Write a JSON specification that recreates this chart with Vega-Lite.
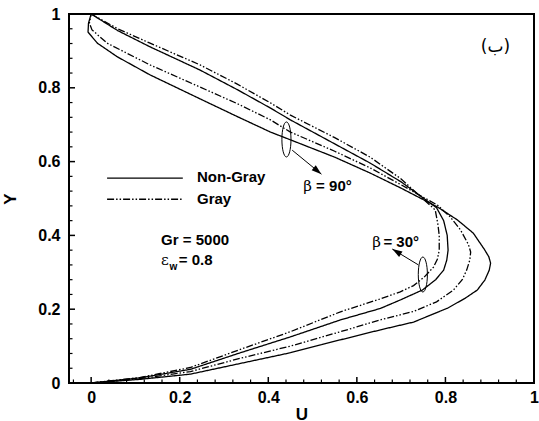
{
  "$schema": "https://vega.github.io/schema/vega-lite/v6.json",
  "width": 465,
  "height": 369,
  "autosize": {"type": "none"},
  "padding": {"left": 69, "top": 14, "right": 5, "bottom": 38},
  "background": "white",
  "title": {"text": "U", "orient": "top", "offset": 6, "fontSize": 17, "font": "Liberation Sans", "fontWeight": "bold", "dx": -4, "color": "black"},
  "config": {"view": {"stroke": "black", "strokeWidth": 2}, "font": "Liberation Sans"},
  "datasets": {
    "lines": [
      {"curve": "A", "type": "Non-Gray", "U": 0, "Y": 0},
      {"curve": "A", "type": "Non-Gray", "U": 0.111, "Y": 0.010},
      {"curve": "A", "type": "Non-Gray", "U": 0.224, "Y": 0.024},
      {"curve": "A", "type": "Non-Gray", "U": 0.337, "Y": 0.053},
      {"curve": "A", "type": "Non-Gray", "U": 0.45, "Y": 0.082},
      {"curve": "A", "type": "Non-Gray", "U": 0.563, "Y": 0.117},
      {"curve": "A", "type": "Non-Gray", "U": 0.653, "Y": 0.144},
      {"curve": "A", "type": "Non-Gray", "U": 0.728, "Y": 0.165},
      {"curve": "A", "type": "Non-Gray", "U": 0.805, "Y": 0.203},
      {"curve": "A", "type": "Non-Gray", "U": 0.845, "Y": 0.23},
      {"curve": "A", "type": "Non-Gray", "U": 0.872, "Y": 0.252},
      {"curve": "A", "type": "Non-Gray", "U": 0.889, "Y": 0.279},
      {"curve": "A", "type": "Non-Gray", "U": 0.899, "Y": 0.306},
      {"curve": "A", "type": "Non-Gray", "U": 0.902, "Y": 0.325},
      {"curve": "A", "type": "Non-Gray", "U": 0.898, "Y": 0.342},
      {"curve": "A", "type": "Non-Gray", "U": 0.888, "Y": 0.362},
      {"curve": "A", "type": "Non-Gray", "U": 0.863, "Y": 0.406},
      {"curve": "A", "type": "Non-Gray", "U": 0.827, "Y": 0.442},
      {"curve": "A", "type": "Non-Gray", "U": 0.782, "Y": 0.477},
      {"curve": "A", "type": "Non-Gray", "U": 0.70, "Y": 0.528},
      {"curve": "A", "type": "Non-Gray", "U": 0.63, "Y": 0.569},
      {"curve": "A", "type": "Non-Gray", "U": 0.55, "Y": 0.612},
      {"curve": "A", "type": "Non-Gray", "U": 0.45, "Y": 0.659},
      {"curve": "A", "type": "Non-Gray", "U": 0.405, "Y": 0.680},
      {"curve": "A", "type": "Non-Gray", "U": 0.33, "Y": 0.722},
      {"curve": "A", "type": "Non-Gray", "U": 0.246, "Y": 0.770},
      {"curve": "A", "type": "Non-Gray", "U": 0.133, "Y": 0.835},
      {"curve": "A", "type": "Non-Gray", "U": 0.059, "Y": 0.884},
      {"curve": "A", "type": "Non-Gray", "U": 0.014, "Y": 0.921},
      {"curve": "A", "type": "Non-Gray", "U": -0.007, "Y": 0.951},
      {"curve": "A", "type": "Non-Gray", "U": -0.006, "Y": 0.975},
      {"curve": "A", "type": "Non-Gray", "U": 0, "Y": 1},
      {"curve": "B", "type": "Gray", "U": 0, "Y": 0},
      {"curve": "B", "type": "Gray", "U": 0.111, "Y": 0.012},
      {"curve": "B", "type": "Gray", "U": 0.224, "Y": 0.031},
      {"curve": "B", "type": "Gray", "U": 0.337, "Y": 0.067},
      {"curve": "B", "type": "Gray", "U": 0.45, "Y": 0.100},
      {"curve": "B", "type": "Gray", "U": 0.563, "Y": 0.139},
      {"curve": "B", "type": "Gray", "U": 0.653, "Y": 0.171},
      {"curve": "B", "type": "Gray", "U": 0.728, "Y": 0.194},
      {"curve": "B", "type": "Gray", "U": 0.78, "Y": 0.22},
      {"curve": "B", "type": "Gray", "U": 0.818, "Y": 0.252},
      {"curve": "B", "type": "Gray", "U": 0.838, "Y": 0.28},
      {"curve": "B", "type": "Gray", "U": 0.848, "Y": 0.306},
      {"curve": "B", "type": "Gray", "U": 0.855, "Y": 0.333},
      {"curve": "B", "type": "Gray", "U": 0.857, "Y": 0.355},
      {"curve": "B", "type": "Gray", "U": 0.852, "Y": 0.375},
      {"curve": "B", "type": "Gray", "U": 0.834, "Y": 0.415},
      {"curve": "B", "type": "Gray", "U": 0.811, "Y": 0.45},
      {"curve": "B", "type": "Gray", "U": 0.782, "Y": 0.482},
      {"curve": "B", "type": "Gray", "U": 0.70, "Y": 0.537},
      {"curve": "B", "type": "Gray", "U": 0.63, "Y": 0.583},
      {"curve": "B", "type": "Gray", "U": 0.55, "Y": 0.628},
      {"curve": "B", "type": "Gray", "U": 0.45, "Y": 0.680},
      {"curve": "B", "type": "Gray", "U": 0.405, "Y": 0.713},
      {"curve": "B", "type": "Gray", "U": 0.33, "Y": 0.757},
      {"curve": "B", "type": "Gray", "U": 0.246, "Y": 0.802},
      {"curve": "B", "type": "Gray", "U": 0.133, "Y": 0.862},
      {"curve": "B", "type": "Gray", "U": 0.036, "Y": 0.921},
      {"curve": "B", "type": "Gray", "U": 0.002, "Y": 0.957},
      {"curve": "B", "type": "Gray", "U": -0.004, "Y": 0.975},
      {"curve": "B", "type": "Gray", "U": 0, "Y": 1},
      {"curve": "C", "type": "Non-Gray", "U": 0, "Y": 0},
      {"curve": "C", "type": "Non-Gray", "U": 0.111, "Y": 0.014},
      {"curve": "C", "type": "Non-Gray", "U": 0.224, "Y": 0.037},
      {"curve": "C", "type": "Non-Gray", "U": 0.337, "Y": 0.082},
      {"curve": "C", "type": "Non-Gray", "U": 0.45, "Y": 0.125},
      {"curve": "C", "type": "Non-Gray", "U": 0.563, "Y": 0.171},
      {"curve": "C", "type": "Non-Gray", "U": 0.653, "Y": 0.202},
      {"curve": "C", "type": "Non-Gray", "U": 0.698, "Y": 0.225},
      {"curve": "C", "type": "Non-Gray", "U": 0.748, "Y": 0.252},
      {"curve": "C", "type": "Non-Gray", "U": 0.778, "Y": 0.28},
      {"curve": "C", "type": "Non-Gray", "U": 0.796, "Y": 0.306},
      {"curve": "C", "type": "Non-Gray", "U": 0.803, "Y": 0.333},
      {"curve": "C", "type": "Non-Gray", "U": 0.806, "Y": 0.36},
      {"curve": "C", "type": "Non-Gray", "U": 0.804, "Y": 0.40},
      {"curve": "C", "type": "Non-Gray", "U": 0.796, "Y": 0.44},
      {"curve": "C", "type": "Non-Gray", "U": 0.78, "Y": 0.475},
      {"curve": "C", "type": "Non-Gray", "U": 0.70, "Y": 0.545},
      {"curve": "C", "type": "Non-Gray", "U": 0.63, "Y": 0.596},
      {"curve": "C", "type": "Non-Gray", "U": 0.55, "Y": 0.648},
      {"curve": "C", "type": "Non-Gray", "U": 0.45, "Y": 0.713},
      {"curve": "C", "type": "Non-Gray", "U": 0.405, "Y": 0.745},
      {"curve": "C", "type": "Non-Gray", "U": 0.33, "Y": 0.795},
      {"curve": "C", "type": "Non-Gray", "U": 0.246, "Y": 0.848},
      {"curve": "C", "type": "Non-Gray", "U": 0.133, "Y": 0.911},
      {"curve": "C", "type": "Non-Gray", "U": 0.06, "Y": 0.955},
      {"curve": "C", "type": "Non-Gray", "U": 0, "Y": 1},
      {"curve": "D", "type": "Gray", "U": 0, "Y": 0},
      {"curve": "D", "type": "Gray", "U": 0.111, "Y": 0.015},
      {"curve": "D", "type": "Gray", "U": 0.224, "Y": 0.042},
      {"curve": "D", "type": "Gray", "U": 0.337, "Y": 0.091},
      {"curve": "D", "type": "Gray", "U": 0.45, "Y": 0.139},
      {"curve": "D", "type": "Gray", "U": 0.563, "Y": 0.193},
      {"curve": "D", "type": "Gray", "U": 0.653, "Y": 0.228},
      {"curve": "D", "type": "Gray", "U": 0.698, "Y": 0.247},
      {"curve": "D", "type": "Gray", "U": 0.728, "Y": 0.264},
      {"curve": "D", "type": "Gray", "U": 0.752, "Y": 0.287},
      {"curve": "D", "type": "Gray", "U": 0.773, "Y": 0.314},
      {"curve": "D", "type": "Gray", "U": 0.782, "Y": 0.336},
      {"curve": "D", "type": "Gray", "U": 0.786, "Y": 0.36},
      {"curve": "D", "type": "Gray", "U": 0.786, "Y": 0.40},
      {"curve": "D", "type": "Gray", "U": 0.783, "Y": 0.43},
      {"curve": "D", "type": "Gray", "U": 0.777, "Y": 0.469},
      {"curve": "D", "type": "Gray", "U": 0.70, "Y": 0.553},
      {"curve": "D", "type": "Gray", "U": 0.63, "Y": 0.612},
      {"curve": "D", "type": "Gray", "U": 0.55, "Y": 0.665},
      {"curve": "D", "type": "Gray", "U": 0.45, "Y": 0.726},
      {"curve": "D", "type": "Gray", "U": 0.405, "Y": 0.759},
      {"curve": "D", "type": "Gray", "U": 0.33, "Y": 0.81},
      {"curve": "D", "type": "Gray", "U": 0.246, "Y": 0.862},
      {"curve": "D", "type": "Gray", "U": 0.133, "Y": 0.921},
      {"curve": "D", "type": "Gray", "U": 0.06, "Y": 0.96},
      {"curve": "D", "type": "Gray", "U": 0, "Y": 1},
      {"curve": "legNG", "type": "Non-Gray", "U": 0.036, "Y": 0.555},
      {"curve": "legNG", "type": "Non-Gray", "U": 0.207, "Y": 0.555},
      {"curve": "legG", "type": "Gray", "U": 0.036, "Y": 0.498},
      {"curve": "legG", "type": "Gray", "U": 0.207, "Y": 0.498}
    ],
    "xticks": [
      {"v": -0.04, "kind": "minor"}, {"v": 0, "kind": "major"}, {"v": 0.04, "kind": "minor"}, {"v": 0.08, "kind": "minor"},
      {"v": 0.12, "kind": "minor"}, {"v": 0.16, "kind": "minor"}, {"v": 0.2, "kind": "major"}, {"v": 0.24, "kind": "minor"},
      {"v": 0.28, "kind": "minor"}, {"v": 0.32, "kind": "minor"}, {"v": 0.36, "kind": "minor"}, {"v": 0.4, "kind": "major"},
      {"v": 0.44, "kind": "minor"}, {"v": 0.48, "kind": "minor"}, {"v": 0.52, "kind": "minor"}, {"v": 0.56, "kind": "minor"},
      {"v": 0.6, "kind": "major"}, {"v": 0.64, "kind": "minor"}, {"v": 0.68, "kind": "minor"}, {"v": 0.72, "kind": "minor"},
      {"v": 0.76, "kind": "minor"}, {"v": 0.8, "kind": "major"}, {"v": 0.84, "kind": "minor"}, {"v": 0.88, "kind": "minor"},
      {"v": 0.92, "kind": "minor"}, {"v": 0.96, "kind": "minor"}
    ],
    "yticks": [
      {"v": 0.04, "kind": "minor"}, {"v": 0.08, "kind": "minor"}, {"v": 0.12, "kind": "minor"}, {"v": 0.16, "kind": "minor"},
      {"v": 0.2, "kind": "major"}, {"v": 0.24, "kind": "minor"}, {"v": 0.28, "kind": "minor"}, {"v": 0.32, "kind": "minor"},
      {"v": 0.36, "kind": "minor"}, {"v": 0.4, "kind": "major"}, {"v": 0.44, "kind": "minor"}, {"v": 0.48, "kind": "minor"},
      {"v": 0.52, "kind": "minor"}, {"v": 0.56, "kind": "minor"}, {"v": 0.6, "kind": "major"}, {"v": 0.64, "kind": "minor"},
      {"v": 0.68, "kind": "minor"}, {"v": 0.72, "kind": "minor"}, {"v": 0.76, "kind": "minor"}, {"v": 0.8, "kind": "major"},
      {"v": 0.84, "kind": "minor"}, {"v": 0.88, "kind": "minor"}, {"v": 0.92, "kind": "minor"}, {"v": 0.96, "kind": "minor"}
    ],
    "ellipses": [
      {"name": "b90", "U": 0.441, "Y": 0.66},
      {"name": "b30", "U": 0.749, "Y": 0.294}
    ],
    "arrows": [
      {"name": "b90", "U": 0.454, "Y": 0.631, "U2": 0.520, "Y2": 0.566},
      {"name": "b30", "U": 0.739, "Y": 0.320, "U2": 0.680, "Y2": 0.363}
    ],
    "boldText": [
      {"label": "Non-Gray", "U": 0.239, "Y": 0.545},
      {"label": "Gray", "U": 0.239, "Y": 0.485},
      {"label": "Gr = 5000", "U": 0.158, "Y": 0.374},
      {"label": "= 0.8", "U": 0.198, "Y": 0.319},
      {"label": "= 90°", "U": 0.508, "Y": 0.521},
      {"label": "= 30°", "U": 0.660, "Y": 0.369}
    ],
    "greekText": [
      {"label": "β", "U": 0.479, "Y": 0.521},
      {"label": "β", "U": 0.635, "Y": 0.369},
      {"label": "ε", "U": 0.158, "Y": 0.319}
    ],
    "subText": [
      {"label": "w", "U": 0.177, "Y": 0.307}
    ],
    "panelText": [
      {"label": "(ب)", "U": 0.913, "Y": 0.897}
    ]
  },
  "layer": [
    {
      "data": {"name": "lines"},
      "mark": {"type": "line", "color": "black", "strokeWidth": 1.3, "clip": true},
      "encoding": {
        "x": {
          "field": "U", "type": "quantitative",
          "scale": {"domain": [-0.05, 1], "nice": false, "zero": false},
          "axis": {
            "orient": "bottom",
            "title": "U", "titleFontSize": 17, "titleFontWeight": "bold", "titleColor": "black", "titlePadding": 1,
            "values": [0, 0.2, 0.4, 0.6, 0.8, 1],
            "format": "~g",
            "labelFontSize": 16, "labelFontWeight": "bold", "labelColor": "black", "labelOverlap": false, "labelFlush": false,
            "labelPadding": 6,
            "domain": false, "grid": false, "ticks": false, "tickSize": 0
          }
        },
        "y": {
          "field": "Y", "type": "quantitative",
          "scale": {"domain": [0, 1], "nice": false, "zero": false},
          "axis": {
            "orient": "left",
            "title": "Y", "titleFontSize": 17, "titleFontWeight": "bold", "titleColor": "black", "titlePadding": 18,
            "values": [0, 0.2, 0.4, 0.6, 0.8, 1],
            "format": "~g",
            "labelFontSize": 16, "labelFontWeight": "bold", "labelColor": "black", "labelOverlap": false, "labelFlush": false,
            "labelPadding": 9,
            "domain": false, "grid": false, "ticks": false, "tickSize": 0
          }
        },
        "order": {"field": "Y", "type": "quantitative"},
        "detail": {"field": "curve"},
        "strokeDash": {
          "field": "type", "type": "nominal",
          "scale": {"domain": ["Non-Gray", "Gray"], "range": [[1, 0], [7, 2, 1.5, 2, 1.5, 2]]},
          "legend": null
        }
      }
    },
    {
      "data": {"name": "xticks"},
      "transform": [{"filter": "datum.kind == 'major'"}],
      "mark": {"type": "tick", "orient": "vertical", "color": "black", "size": 12, "thickness": 1.5, "clip": true, "opacity": 1},
      "encoding": {
        "x": {"field": "v", "type": "quantitative"},
        "y": {"datum": 0, "type": "quantitative"}
      }
    },
    {
      "data": {"name": "xticks"},
      "transform": [{"filter": "datum.kind == 'minor'"}],
      "mark": {"type": "tick", "orient": "vertical", "color": "black", "size": 7, "thickness": 1.2, "clip": true, "opacity": 1},
      "encoding": {
        "x": {"field": "v", "type": "quantitative"},
        "y": {"datum": 0, "type": "quantitative"}
      }
    },
    {
      "data": {"name": "yticks"},
      "transform": [{"filter": "datum.kind == 'major'"}],
      "mark": {"type": "tick", "orient": "horizontal", "color": "black", "size": 12, "thickness": 1.5, "clip": true, "opacity": 1},
      "encoding": {
        "y": {"field": "v", "type": "quantitative"},
        "x": {"datum": -0.05, "type": "quantitative"}
      }
    },
    {
      "data": {"name": "yticks"},
      "transform": [{"filter": "datum.kind == 'minor'"}],
      "mark": {"type": "tick", "orient": "horizontal", "color": "black", "size": 7, "thickness": 1.2, "clip": true, "opacity": 1},
      "encoding": {
        "y": {"field": "v", "type": "quantitative"},
        "x": {"datum": -0.05, "type": "quantitative"}
      }
    },
    {
      "data": {"name": "ellipses"},
      "mark": {"type": "point", "shape": "M0,-1A0.26,1,0,0,1,0,1A0.26,1,0,0,1,0,-1Z", "filled": false, "stroke": "black", "strokeWidth": 1, "size": 1225, "opacity": 1},
      "encoding": {
        "x": {"field": "U", "type": "quantitative"},
        "y": {"field": "Y", "type": "quantitative"}
      }
    },
    {
      "data": {"name": "arrows"},
      "mark": {"type": "rule", "color": "black", "strokeWidth": 1},
      "encoding": {
        "x": {"field": "U", "type": "quantitative"},
        "y": {"field": "Y", "type": "quantitative"},
        "x2": {"field": "U2"},
        "y2": {"field": "Y2"}
      }
    },
    {
      "data": {"name": "arrows"},
      "transform": [{"filter": "datum.name == 'b90'"}],
      "mark": {"type": "point", "shape": "M0,0L-0.32,1L0.32,1Z", "filled": true, "color": "black", "size": 400, "angle": 129.6, "opacity": 1},
      "encoding": {
        "x": {"field": "U2", "type": "quantitative"},
        "y": {"field": "Y2", "type": "quantitative"}
      }
    },
    {
      "data": {"name": "arrows"},
      "transform": [{"filter": "datum.name == 'b30'"}],
      "mark": {"type": "point", "shape": "M0,0L-0.32,1L0.32,1Z", "filled": true, "color": "black", "size": 400, "angle": 301.6, "opacity": 1},
      "encoding": {
        "x": {"field": "U2", "type": "quantitative"},
        "y": {"field": "Y2", "type": "quantitative"}
      }
    },
    {
      "data": {"name": "boldText"},
      "mark": {"type": "text", "align": "left", "baseline": "alphabetic", "fontSize": 15, "fontWeight": "bold", "font": "Liberation Sans", "color": "black"},
      "encoding": {
        "x": {"field": "U", "type": "quantitative"},
        "y": {"field": "Y", "type": "quantitative"},
        "text": {"field": "label"}
      }
    },
    {
      "data": {"name": "greekText"},
      "mark": {"type": "text", "align": "left", "baseline": "alphabetic", "fontSize": 15, "fontWeight": "normal", "font": "DejaVu Serif", "color": "black"},
      "encoding": {
        "x": {"field": "U", "type": "quantitative"},
        "y": {"field": "Y", "type": "quantitative"},
        "text": {"field": "label"}
      }
    },
    {
      "data": {"name": "subText"},
      "mark": {"type": "text", "align": "left", "baseline": "alphabetic", "fontSize": 10, "fontWeight": "bold", "font": "Liberation Sans", "color": "black"},
      "encoding": {
        "x": {"field": "U", "type": "quantitative"},
        "y": {"field": "Y", "type": "quantitative"},
        "text": {"field": "label"}
      }
    },
    {
      "data": {"name": "panelText"},
      "mark": {"type": "text", "align": "center", "baseline": "alphabetic", "fontSize": 17, "fontWeight": "normal", "font": "DejaVu Sans", "color": "black"},
      "encoding": {
        "x": {"field": "U", "type": "quantitative"},
        "y": {"field": "Y", "type": "quantitative"},
        "text": {"field": "label"}
      }
    }
  ]
}
